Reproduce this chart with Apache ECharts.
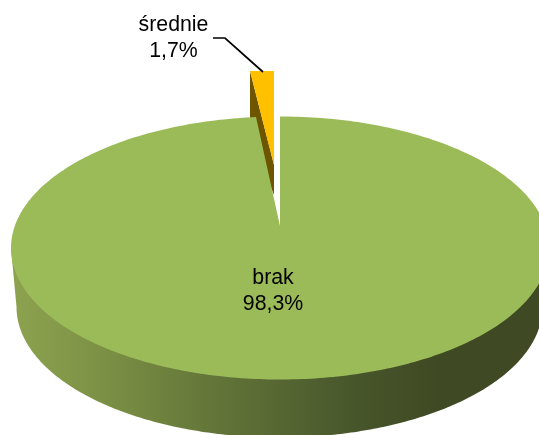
<!DOCTYPE html>
<html>
<head>
<meta charset="utf-8">
<style>html,body{margin:0;padding:0;background:#fff}#c{width:539px;height:435px}</style>
<script src="https://cdn.jsdelivr.net/npm/echarts@6/dist/echarts.min.js"></script>
</head>
<body>
<div id="c"></div>
<script>
const categories = ['brak', 'średnie'];
const shares = [98.3, 1.7];

const FONT = '"Liberation Sans", Arial, sans-serif';
const chart = echarts.init(document.getElementById('c'), null, { renderer: 'canvas' });

const top_ = { cx: 280, cy: 248, rx: 269, ry: 131.5 };
const base = { cx: 279.5, cy: 307, rx: 263, ry: 130.5 };
const apex = { x: 280, y: 226 };
const backR = 225;          // foreshortened radius at the far side (perspective)
const wedge = { x: 274, y: 165, ry: 94, depth: 30 };

function label(name, v) { return name + '\n' + String(v).replace('.', ',') + '%'; }

function ell(e, t) { return [e.cx + e.rx * Math.sin(t), e.cy - e.ry * Math.cos(t)]; }

function renderItem(params, api) {
  const v = api.value(0);
  const name = categories[params.dataIndex];
  const txt = { fontFamily: FONT, fontSize: 21.3, fill: '#000', align: 'center', verticalAlign: 'middle', lineHeight: 25.5 };
  if (params.dataIndex === 0) {
    const gap = 2 * Math.PI * (1 - v / 100);
    const t0 = Math.asin((apex.x - top_.cx) / top_.rx);
    const t1 = 2 * Math.PI + Math.asin((apex.x - backR * Math.sin(gap) - top_.cx) / top_.rx);
    const topPts = [[apex.x, apex.y]];
    for (let i = 0; i <= 360; i++) topPts.push(ell(top_, t0 + (t1 - t0) * i / 360));
    const sidePts = [ell(top_, Math.PI / 2)];
    for (let i = 0; i <= 240; i++) sidePts.push(ell(base, Math.PI / 2 + Math.PI * i / 240));
    sidePts.push(ell(top_, 3 * Math.PI / 2));
    const grad = new echarts.graphic.LinearGradient(16, 0, 439, 0, [
      { offset: 0, color: '#8da24f' },
      { offset: 0.2, color: '#7c9145' },
      { offset: 0.43, color: '#66793a' },
      { offset: 0.8, color: '#48562b' },
      { offset: 1, color: '#3f4923' }
    ], true);
    return { type: 'group', children: [
      { type: 'polygon', z2: 1, shape: { points: sidePts }, style: { fill: grad } },
      { type: 'polygon', z2: 4, shape: { points: topPts }, style: { fill: '#9bbb59' } },
      { type: 'text', z2: 10, x: 273, y: 291, style: Object.assign({ text: label(name, v) }, txt) }
    ]};
  }
  const phi = 2 * Math.PI * v / 100;
  const lx = wedge.x - backR * Math.sin(phi);
  const ty = wedge.y - wedge.ry;
  return { type: 'group', children: [
    { type: 'polygon', z2: 2, shape: { points: [[lx, ty], [lx, ty + 64], [wedge.x, wedge.y + wedge.depth], [wedge.x, wedge.y]] }, style: { fill: '#6e5600' } },
    { type: 'polygon', z2: 3, shape: { points: [[wedge.x, wedge.y], [lx, ty], [wedge.x, ty]] }, style: { fill: '#ffc000' } },
    { type: 'polyline', z2: 9, shape: { points: [[213, 38], [225, 38], [263, 72]] }, style: { stroke: '#000', lineWidth: 1.7, fill: null } },
    { type: 'text', z2: 10, x: 173.5, y: 38, style: Object.assign({ text: label(name, v) }, txt) }
  ]};
}

chart.setOption({
  backgroundColor: '#fff',
  animation: false,
  series: [{
    type: 'custom',
    coordinateSystem: 'none',
    renderItem: renderItem,
    data: shares.map(v => [v])
  }]
});
</script>
</body>
</html>
